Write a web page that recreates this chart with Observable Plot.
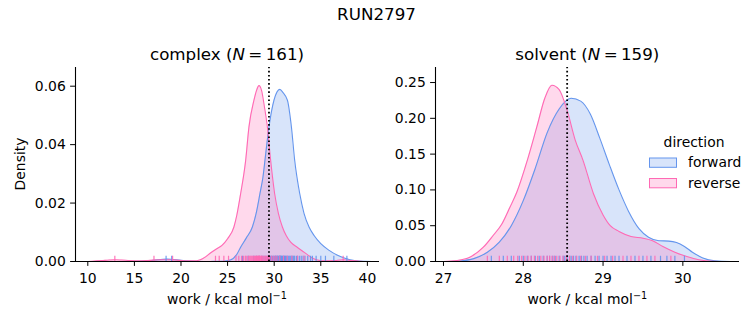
<!DOCTYPE html>
<html><head><meta charset="utf-8">
<script src="https://cdn.jsdelivr.net/npm/d3@7"></script>
<script src="https://cdn.jsdelivr.net/npm/@observablehq/plot@0.6"></script>
<style>
body{margin:0;background:#fff;}
#fig{position:relative;width:753px;height:325px;font-family:"DejaVu Sans",sans-serif;overflow:hidden;}
#fig svg{position:absolute;top:0;}
</style></head><body><div id="fig"></div>
<script>
// ---------- data ----------
const figTitle = "RUN2797";
const directions = ["forward", "reverse"];
const dirColors = ["#6495ED", "#FF69B4"];
const legendTitle = "direction";
const xLabel = "work / kcal mol";
const yLabel = "Density";

const complexN = 161;
const solventN = 159;
const complexMark = 29.44;
const solventMark = 28.55;

const complexXTicks = [10, 15, 20, 25, 30, 35, 40];
const complexYTicks = [0, 0.02, 0.04, 0.06];
const solventXTicks = [27, 28, 29, 30];
const solventYTicks = [0, 0.05, 0.10, 0.15, 0.20, 0.25];
const complexXDomain = [8.68, 41.3];
const complexYDomain = [0, 0.0664];
const solventXDomain = [26.9, 30.71];
const solventYDomain = [0, 0.271];

// KDE curves: work (kcal/mol) and density
const complexFwdX = [14.5, 15.5, 16.5, 17.5, 18.5, 19.5, 20.5, 21.5, 22.5, 23.5, 24.5, 25.3, 26.0, 26.4, 27.0, 27.66, 28.1, 28.47, 28.8, 29.01, 29.44, 29.98, 30.3, 30.6, 30.95, 31.42, 31.85, 32.2, 32.74, 33.2, 33.74, 34.3, 35.0, 35.9, 36.8, 37.6, 38.6, 39.5, 40.5];
const complexFwdD = [0, 0.00005, 0.0002, 0.0006, 0.0008, 0.0006, 0.0002, 0.00003, 0, 0.00003, 0.0001, 0.0005, 0.0025, 0.0049, 0.0080, 0.0118, 0.017, 0.0232, 0.029, 0.0346, 0.046, 0.0552, 0.0580, 0.0589, 0.0578, 0.0552, 0.046, 0.0346, 0.0232, 0.0165, 0.0118, 0.0088, 0.0061, 0.0038, 0.0021, 0.0011, 0.0003, 0.00005, 0];
const complexRevX = [9.5, 10.5, 11.5, 12.3, 12.9, 13.6, 14.5, 15.5, 16.3, 17.1, 17.8, 18.5, 19.1, 19.8, 20.6, 21.4, 22.0, 22.6, 23.2, 23.8, 24.4, 25.0, 25.68, 26.0, 26.4, 26.94, 27.29, 27.83, 28.1, 28.37, 28.65, 28.95, 29.27, 29.62, 30.05, 30.45, 30.88, 31.3, 31.77, 32.5, 33.2, 34.0, 34.64, 35.5, 36.5, 37.4, 38.3, 39.2, 40.2];
const complexRevD = [0, 0.0001, 0.0003, 0.0005, 0.0006, 0.0005, 0.0003, 0.0002, 0.0003, 0.0005, 0.0006, 0.0006, 0.0006, 0.0004, 0.0002, 0.0002, 0.0005, 0.0015, 0.0030, 0.0043, 0.0055, 0.0078, 0.0118, 0.016, 0.0232, 0.0346, 0.046, 0.0552, 0.0585, 0.0602, 0.0585, 0.0530, 0.046, 0.0346, 0.0232, 0.0165, 0.0118, 0.0088, 0.0066, 0.0048, 0.0032, 0.0014, 0.0005, 0.0002, 0.0003, 0.0006, 0.0003, 0.0001, 0];
const solventFwdX = [27.0, 27.2, 27.38, 27.55, 27.7, 27.85, 28.0, 28.15, 28.3, 28.45, 28.6, 28.72, 28.84, 28.96, 29.08, 29.2, 29.32, 29.45, 29.57, 29.7, 29.82, 29.92, 30.02, 30.12, 30.25, 30.4, 30.6];
const solventFwdD = [0, 0.0008, 0.004, 0.013, 0.027, 0.050, 0.085, 0.130, 0.180, 0.213, 0.228, 0.224, 0.206, 0.172, 0.135, 0.100, 0.070, 0.046, 0.034, 0.029, 0.0285, 0.0265, 0.021, 0.013, 0.005, 0.001, 0];
const solventRevX = [27.0, 27.17, 27.33, 27.5, 27.62, 27.73, 27.83, 27.92, 28.05, 28.17, 28.27, 28.36, 28.45, 28.55, 28.65, 28.75, 28.88, 29.0, 29.09, 29.2, 29.35, 29.5, 29.62, 29.75, 29.9, 30.05, 30.2, 30.38, 30.55];
const solventRevD = [0, 0.0014, 0.006, 0.020, 0.036, 0.052, 0.075, 0.097, 0.141, 0.188, 0.228, 0.2462, 0.240, 0.211, 0.170, 0.141, 0.0947, 0.065, 0.050, 0.042, 0.035, 0.0325, 0.029, 0.021, 0.013, 0.007, 0.0025, 0.0004, 0];

// rug (individual work values)
const complexFwdRug = [18.4, 19.0, 26.6, 27.2, 27.8, 28.1, 28.4, 28.7, 28.9, 29.1, 29.3, 29.4, 29.6, 29.7, 29.8, 29.9, 30.0, 30.1, 30.15, 30.2, 30.3, 30.35, 30.4, 30.5, 30.55, 30.6, 30.65, 30.7, 30.75, 30.8, 30.9, 30.95, 31.0, 31.1, 31.15, 31.2, 31.3, 31.4, 31.5, 31.6, 31.7, 31.8, 31.9, 32.0, 32.1, 32.2, 32.4, 32.5, 32.7, 32.9, 33.1, 33.3, 33.6, 33.9, 34.1, 34.5, 35.0, 35.5, 36.4, 37.8];
const complexRevRug = [12.9, 17.1, 19.1, 23.7, 24.1, 24.6, 25.1, 25.9, 26.2, 26.5, 26.7, 26.9, 27.0, 27.2, 27.3, 27.4, 27.5, 27.6, 27.7, 27.8, 27.9, 28.0, 28.05, 28.1, 28.2, 28.25, 28.3, 28.35, 28.4, 28.45, 28.5, 28.6, 28.65, 28.7, 28.8, 28.9, 29.0, 29.1, 29.2, 29.3, 29.4, 29.5, 29.7, 29.9, 30.1, 30.3, 30.6, 31.0, 31.4, 31.9, 32.5, 33.2, 37.4];
const solventFwdRug = [27.6, 27.75, 27.85, 27.95, 28.0, 28.05, 28.1, 28.15, 28.2, 28.25, 28.3, 28.33, 28.37, 28.4, 28.45, 28.5, 28.52, 28.55, 28.58, 28.6, 28.63, 28.66, 28.7, 28.73, 28.76, 28.8, 28.85, 28.9, 28.95, 29.0, 29.05, 29.1, 29.15, 29.2, 29.3, 29.4, 29.5, 29.6, 29.72, 29.8, 29.9, 30.02];
const solventRevRug = [27.55, 27.7, 27.8, 27.88, 27.93, 27.98, 28.02, 28.06, 28.1, 28.14, 28.18, 28.22, 28.26, 28.3, 28.33, 28.36, 28.39, 28.42, 28.46, 28.5, 28.54, 28.58, 28.62, 28.67, 28.72, 28.78, 28.85, 28.93, 29.02, 29.12, 29.25, 29.35, 29.45, 29.55, 29.65, 29.85];

// ---------- build tables ----------
const curveRows = (xs, ds, dir) => xs.map((x, i) => ({x, d: ds[i], direction: dir}));
const rugRows = (xs, dir) => xs.map(x => ({x, direction: dir}));

const FONT = "DejaVu Sans, sans-serif";
const TICK_FS = "13.9px";

function panel({curves, rugs, mark, xDomain, yDomain, xTicks, yTicks, yFmt, width, mL, mR}) {
  const rugH = yDomain[1] * 0.027;
  return Plot.plot({
    width, height: 325,
    marginTop: 67, marginBottom: 64, marginLeft: mL, marginRight: mR,
    style: {fontFamily: FONT, fontSize: TICK_FS, background: "transparent", color: "#000", overflow: "visible"},
    x: {domain: xDomain, ticks: xTicks, tickFormat: d => String(d), tickSize: 4.9, tickPadding: 7, label: null},
    y: {domain: yDomain, ticks: yTicks, tickFormat: yFmt, tickSize: 4.9, tickPadding: 4.8, label: null},
    color: {domain: directions, range: dirColors},
    marks: [
      Plot.areaY(curves, {x: "x", y1: 0, y2: "d", z: "direction", fill: "direction", fillOpacity: 0.25, curve: "monotone-x"}),
      Plot.lineY(curves, {x: "x", y: "d", z: "direction", stroke: "direction", strokeWidth: 1.1, curve: "monotone-x"}),
      Plot.ruleX(rugs, {x: "x", y1: 0, y2: rugH, stroke: "direction", strokeOpacity: 0.9, strokeWidth: 1.2}),
      Plot.ruleX([mark], {y1: yDomain[0], y2: yDomain[1], stroke: "black", strokeWidth: 1.8, strokeDasharray: "1.6,2.5"}),
      Plot.ruleX([xDomain[0]], {stroke: "black", strokeWidth: 1.1}),
      Plot.ruleY([0], {stroke: "black", strokeWidth: 1.1})
    ]
  });
}

const fig = document.getElementById("fig");

const left = panel({
  curves: [...curveRows(complexFwdX, complexFwdD, "forward"), ...curveRows(complexRevX, complexRevD, "reverse")],
  rugs: [...rugRows(complexFwdRug, "forward"), ...rugRows(complexRevRug, "reverse")],
  mark: complexMark, xDomain: complexXDomain, yDomain: complexYDomain,
  xTicks: complexXTicks, yTicks: complexYTicks, yFmt: d3.format(".2f"),
  width: 380, mL: 75, mR: 1
});
left.style.left = "0px";
fig.appendChild(left);

const right = panel({
  curves: [...curveRows(solventFwdX, solventFwdD, "forward"), ...curveRows(solventRevX, solventRevD, "reverse")],
  rugs: [...rugRows(solventFwdRug, "forward"), ...rugRows(solventRevRug, "reverse")],
  mark: solventMark, xDomain: solventXDomain, yDomain: solventYDomain,
  xTicks: solventXTicks, yTicks: solventYTicks, yFmt: d3.format(".2f"),
  width: 373, mL: 55, mR: 14
});
right.style.left = "380px";
fig.appendChild(right);

// ---------- overlay text: titles, labels, legend ----------
const ov = d3.select(fig).append("svg")
  .attr("width", 753).attr("height", 325)
  .style("left", "0px").style("pointer-events", "none")
  .attr("font-family", FONT);

ov.append("text").attr("x", 376.5).attr("y", 19.5).attr("text-anchor", "middle")
  .attr("font-size", "16.7px").text(figTitle);

function panelTitle(cx, name, n) {
  const t = ov.append("text").attr("x", cx).attr("y", 59.5).attr("text-anchor", "middle").attr("font-size", "16.7px");
  t.append("tspan").text(name + " (");
  t.append("tspan").attr("font-style", "italic").text("N");
  t.append("tspan").text("\u2009=\u2009" + n + ")");
}
panelTitle(227, "complex", complexN);
panelTitle(587.3, "solvent", solventN);

function xAxisLabel(cx) {
  const t = ov.append("text").attr("x", cx).attr("y", 304).attr("text-anchor", "middle").attr("font-size", "13.9px");
  t.append("tspan").text(xLabel);
  t.append("tspan").attr("dy", -5.5).attr("font-size", "9.7px").text("\u22121");
}
xAxisLabel(227);
xAxisLabel(587.3);

ov.append("text").attr("transform", "translate(25,164) rotate(-90)").attr("text-anchor", "middle")
  .attr("font-size", "13.9px").text(yLabel);

// legend
ov.append("text").attr("x", 694).attr("y", 146.5).attr("text-anchor", "middle").attr("font-size", "13.9px").text(legendTitle);
directions.forEach((dir, i) => {
  const y0 = 158 + i * 20.5;
  ov.append("rect").attr("x", 649.5).attr("y", y0).attr("width", 27).attr("height", 9.3)
    .attr("fill", dirColors[i]).attr("fill-opacity", 0.25).attr("stroke", dirColors[i]).attr("stroke-width", 1);
  ov.append("text").attr("x", 688).attr("y", y0 + 9.2).attr("font-size", "13.9px").text(dir);
});
</script>
</body></html>
